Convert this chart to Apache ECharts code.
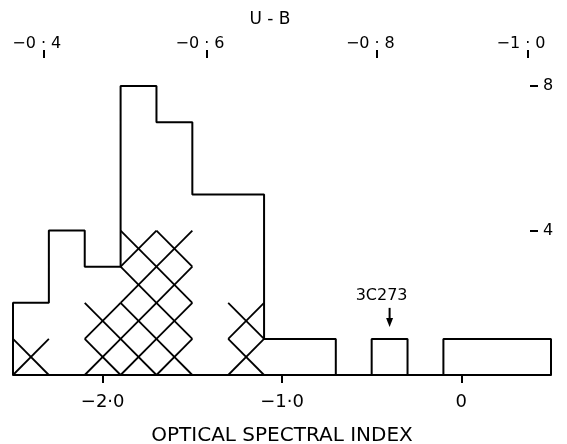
<!DOCTYPE html>
<html><head><meta charset="utf-8">
<script src="https://cdn.jsdelivr.net/npm/echarts@6/dist/echarts.min.js"></script>
<style>html,body{margin:0;padding:0;background:#fff}#c{width:567px;height:444px}</style>
</head><body><div id="c"></div>
<script>
// Histogram bins (optical spectral index), counts and cross-hatched counts
const binEdges = [-2.5,-2.3,-2.1,-1.9,-1.7,-1.5,-1.3,-1.1,-0.9,-0.7,-0.5,-0.3,-0.1,0.1,0.3,0.5];
const counts = [2,4,3,8,7,5,5,1,1,0,1,0,1,1,1];
const hatchedCounts = [1,0,2,4,4,0,2,0,0,0,0,0,0,0,0];
// Bottom axis ticks
const xTickValues = [-2,-1,0];
const xTickLabels = ['−2·0','−1·0','0'];
// Top axis (U - B) ticks, placed on the spectral-index scale
const ubTickPositions = [-2.33,-1.42,-0.47,0.37];
const ubTickLabels = ['−0·4','−0·6','−0·8','−1·0'];
// Right axis ticks (number of objects)
const yTickValues = [4,8];
const yTickLabels = ['4','8'];
// Annotation
const annotLabel = '3C273';
const annotX = -0.4;
const annotCount = 1;

const FONT = 'DejaVu Sans';

function labelFor(values, labels, v){
  let best = 0, bd = Infinity;
  values.forEach((t,i)=>{const d=Math.abs(t-v); if(d<bd){bd=d;best=i;}});
  return labels[best];
}
function richSplit(s){
  if (s.indexOf('·') < 0) return s;
  const parts = s.split('·');
  return '{l|' + parts[0] + '}{d|·}{r|' + parts[1] + '}';
}

// outline points
const outline = [[binEdges[0],0]];
counts.forEach((c,i)=>{ outline.push([binEdges[i],c]); outline.push([binEdges[i+1],c]); });
outline.push([binEdges[binEdges.length-1],0]);

// hatched cells
const hatchCells = [];
hatchedCounts.forEach((h,i)=>{ for(let k=0;k<h;k++) hatchCells.push([binEdges[i],binEdges[i+1],k]); });

const chart = echarts.init(document.getElementById('c'), null, {renderer:'canvas'});
chart.setOption({
  animation:false,
  backgroundColor:'#fff',
  grid:{left:13, right:16, top:50, bottom:69, outerBoundsMode:'none', containLabel:false},
  xAxis:[{
    type:'value', min:-2.5, max:0.5, position:'bottom',
    name:'OPTICAL SPECTRAL INDEX', nameLocation:'middle', nameGap:51,
    nameTextStyle:{fontFamily:FONT, fontSize:20, color:'#000'},
    axisLine:{show:true, onZero:false, lineStyle:{color:'#000', width:2}},
    axisTick:{show:true, inside:false, customValues:xTickValues.slice(), length:8, lineStyle:{color:'#000', width:2}},
    axisLabel:{customValues:xTickValues.slice(), margin:18, color:'#000', hideOverlap:false,
      formatter:v=>labelFor(xTickValues,xTickLabels,v),
      fontFamily:FONT, fontSize:18},
    splitLine:{show:false}
  },{
    type:'value', min:-2.5, max:0.5, position:'top',
    axisLine:{show:false, onZero:false},
    axisTick:{show:true, inside:true, customValues:ubTickPositions, length:8, lineStyle:{color:'#000', width:2}},
    axisLabel:{customValues:ubTickPositions, margin:-2, color:'#000',
      formatter:v=>richSplit(labelFor(ubTickPositions,ubTickLabels,v)),
      fontFamily:FONT, fontSize:16,
      rich:{
        l:{fontFamily:FONT, fontSize:16, color:'#000'},
        d:{fontFamily:FONT, fontSize:16, color:'#000', padding:[0,5,0,5]},
        r:{fontFamily:FONT, fontSize:16, color:'#000', padding:[0,13.4,0,0]}
      }},
    splitLine:{show:false}
  }],
  yAxis:{
    type:'value', min:0, max:9, position:'right', offset:-21,
    axisLine:{show:false, onZero:false},
    axisTick:{show:true, customValues:yTickValues, length:8, lineStyle:{color:'#000', width:2}},
    axisLabel:{customValues:yTickValues, margin:13, color:'#000', fontFamily:FONT, fontSize:16,
      formatter:v=>labelFor(yTickValues,yTickLabels,v)},
    splitLine:{show:false}
  },
  graphic:[{type:'text', x:270, y:11, style:{text:'U - B', font:'17px "DejaVu Sans"', fill:'#000', align:'center'}}],
  series:[{
    type:'line', xAxisIndex:0, data:outline, symbol:'none', silent:true,
    lineStyle:{color:'#000', width:2}, z:3
  },{
    type:'custom', xAxisIndex:0, data:hatchCells, silent:true,
    encode:{x:[0,1], y:2},
    renderItem:function(params, api){
      const x0=api.value(0), x1=api.value(1), k=api.value(2);
      const a=api.coord([x0,k]), b=api.coord([x1,k+1]);
      const c=api.coord([x0,k+1]), d=api.coord([x1,k]);
      const st={stroke:'#000', lineWidth:1.8};
      return {type:'group', children:[
        {type:'line', shape:{x1:a[0],y1:a[1],x2:b[0],y2:b[1]}, style:st},
        {type:'line', shape:{x1:c[0],y1:c[1],x2:d[0],y2:d[1]}, style:st}
      ]};
    }
  },{
    type:'custom', xAxisIndex:0, data:[[annotX, annotCount]], silent:true,
    encode:{x:0, y:1},
    renderItem:function(params, api){
      const p=api.coord([api.value(0), api.value(1)]);
      const x=p[0], y=p[1];
      return {type:'group', children:[
        {type:'text', style:{text:annotLabel, x:x-8, y:y-35, align:'center', verticalAlign:'bottom', font:'16px "DejaVu Sans"', fill:'#000'}},
        {type:'line', shape:{x1:x, y1:y-31, x2:x, y2:y-18}, style:{stroke:'#000', lineWidth:2}},
        {type:'polygon', shape:{points:[[x-3.5,y-21],[x+3.5,y-21],[x,y-12]]}, style:{fill:'#000'}}
      ]};
    }
  }]
});
</script></body></html>
